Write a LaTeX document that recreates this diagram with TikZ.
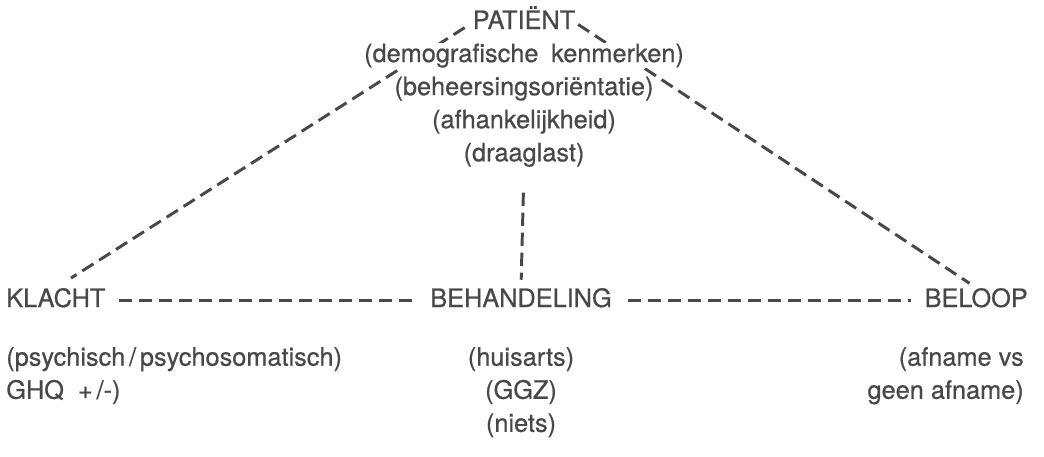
\documentclass[tikz,border=0pt]{standalone}
\usepackage{fontspec}
\setmainfont[FakeBold=0.6]{TeX Gyre Heros}
\usetikzlibrary{positioning, backgrounds}
\definecolor{ink}{RGB}{72,72,72}

\begin{document}
\begin{tikzpicture}[
            x=0.025cm, y=-0.025cm,
            node distance=0.18cm,
            every node/.style={text=ink, font=\fontsize{18}{22}\selectfont},
            txt/.style={inner sep=0pt, text height=13.5pt, text depth=4.5pt, fill=white},
            dashline/.style={draw=ink, line width=2.1pt, dash pattern=on 0.33cm off 0.17cm}
        ]
        \useasboundingbox (0,0) rectangle (1044,456);

        % Patient and its characteristics
        \node[txt, anchor=base] (patient) at (524,29) {PATIËNT};
        \node[txt, below=of patient] (demografie) {(demografische\hspace{0.5em}kenmerken)};
        \node[txt, below=of demografie] (beheersing) {(beheersingsoriëntatie)};
        \node[txt, below=of beheersing] (afhankelijk) {(afhankelijkheid)};
        \node[txt, below=of afhankelijk] (draaglast) {(draaglast)};

        % The three main factors
        \node[txt, anchor=base west] (klacht) at (6,307) {KLACHT};
        \node[txt, anchor=base] (behandeling) at (521,307) {BEHANDELING};
        \node[txt, anchor=base east] (beloop) at (1028,307) {BELOOP};

        % Values of each factor
        \node[txt, below=0.82cm of klacht.south west, anchor=north west] (klachtsoort) {(psychisch\hspace{0.15em}/\hspace{0.15em}psychosomatisch)};
        \node[txt, below=of klachtsoort.south west, anchor=north west] (ghq) {GHQ\ \ +\hspace{0.15em}/-)};
        \node[txt, below=0.82cm of behandeling] (huisarts) {(huisarts)};
        \node[txt, below=of huisarts] (ggz) {(GGZ)};
        \node[txt, below=of ggz] (niets) {(niets)};
        \node[txt, below=0.82cm of beloop.south east, anchor=north east, xshift=-0.1cm] (afname) {(afname vs};
        \node[txt, below=of afname.south east, anchor=north east] (geenafname) {geen afname)};

        % Dashed relations, behind the texts
        \begin{scope}[on background layer]
            \draw[dashline, shorten <=0.23cm, shorten >=0.45cm] (patient.west) -- (klacht.north);
            \draw[dashline, shorten <=0.08cm, shorten >=0.2cm] (patient.east) -- (beloop.north);
            \draw[dashline, shorten <=0.62cm, shorten >=0.2cm] (draaglast.south) -- (behandeling.north);
            \draw[dashline, shorten <=0.33cm, shorten >=0.3cm] (klacht.east) -- (behandeling.west);
            \draw[dashline, shorten <=0.4cm, shorten >=0.33cm] (behandeling.east) -- (beloop.west);
        \end{scope}
    \end{tikzpicture}
\end{document}
